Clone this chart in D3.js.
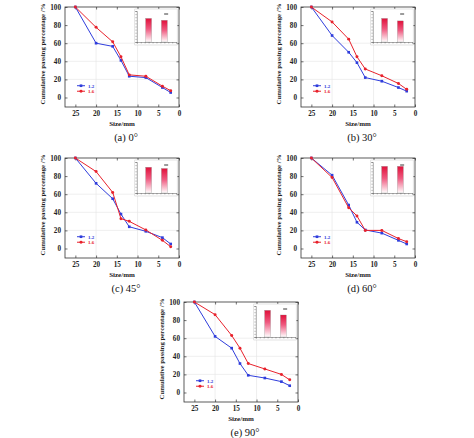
<!DOCTYPE html>
<html><head><meta charset="utf-8">
<script src="https://cdn.jsdelivr.net/npm/d3@7"></script>
<style>body{margin:0;background:#fff}svg{display:block}</style>
</head><body><svg id="c" width="474" height="438"></svg>
<script>
const sizes = [25, 20, 16, 14, 12, 8, 4, 2];
const xTicks = [25, 20, 15, 10, 5, 0];
const yTicks = [0, 20, 40, 60, 80, 100];
const seriesNames = ["1.2", "1.6"];
const captions = ["(a) 0°", "(b) 30°", "(c) 45°", "(d) 60°", "(e) 90°"];
const blue0 = [100, 60, 56.5, 41, 23.5, 22, 11, 5.5];
const red0  = [100, 77.5, 61.5, 45, 25, 23.5, 12.5, 7.5];
const blue30 = [100, 68.5, 50, 38.5, 22, 18, 11, 7];
const red30  = [100, 83.5, 64.5, 45, 31.5, 24, 15.5, 9];
const blue45 = [100, 72, 55, 38, 24, 19, 12, 5];
const red45  = [100, 85, 62, 33, 30, 20.5, 9, 2];
const blue60 = [100, 81, 48, 29, 20.5, 17, 9, 5];
const red60  = [100, 78.5, 45, 36, 20, 20, 11, 7.5];
const blue90 = [100, 62, 49, 32, 19, 16, 12, 7.5];
const red90  = [100, 86, 63, 49, 32, 26, 20, 14];
const insetBars = [[76, 70], [76, 68], [83, 79], [86, 86], [86, 71]];

const panels = [
  {x: 65, y: 7, blue: blue0, red: red0},
  {x: 301, y: 7, blue: blue30, red: red30},
  {x: 65, y: 158, blue: blue45, red: red45},
  {x: 301, y: 158, blue: blue60, red: red60},
  {x: 184, y: 302, blue: blue90, red: red90}
];
const W = 114, H = 100;
const BLUE = "#2f3ddc", RED = "#e8222c";
const font = "'Liberation Serif', 'Times New Roman', serif";
const svg = d3.select("#c");

const defs = svg.append("defs");
const grad = defs.append("linearGradient").attr("id", "bargrad").attr("x1", 0).attr("y1", 0).attr("x2", 0).attr("y2", 1);
grad.append("stop").attr("offset", "0%").attr("stop-color", "#e0103a");
grad.append("stop").attr("offset", "45%").attr("stop-color", "#ef5a80");
grad.append("stop").attr("offset", "100%").attr("stop-color", "#ffffff");

panels.forEach((p, i) => {
  const g = svg.append("g").attr("transform", `translate(${p.x},${p.y})`);
  const x = d3.scaleLinear().domain([27.5, 0]).range([0, W]);
  const y = d3.scaleLinear().domain([-10.5, 100]).range([H, 0]);

  // faint grid
  g.append("g").selectAll("line").data([20, 10]).join("line")
    .attr("x1", d => x(d)).attr("x2", d => x(d)).attr("y1", 0).attr("y2", H)
    .attr("stroke", "#e4e4e4").attr("stroke-width", 0.6);
  g.append("g").selectAll("line").data([20, 40, 60]).join("line")
    .attr("x1", 0).attr("x2", W).attr("y1", d => y(d)).attr("y2", d => y(d))
    .attr("stroke", "#e4e4e4").attr("stroke-width", 0.6);

  // axes
  const ax = g.append("g").attr("transform", `translate(0,${H})`)
    .call(d3.axisBottom(x).tickValues(xTicks).tickSize(-2.5).tickPadding(4).tickFormat(d3.format("d")));
  const ay = g.append("g")
    .call(d3.axisLeft(y).tickValues(yTicks).tickSize(-2.5).tickPadding(4).tickFormat(d3.format("d")));
  const axT = g.append("g").call(d3.axisTop(x).tickValues(xTicks).tickSize(-2.5).tickFormat(""));
  const ayR = g.append("g").attr("transform", `translate(${W},0)`)
    .call(d3.axisRight(y).tickValues(yTicks).tickSize(-2.5).tickFormat(""));
  [ax, ay, axT, ayR].forEach(a => {
    a.select(".domain").remove();
    a.selectAll("line").attr("stroke", "#333").attr("stroke-width", 0.7);
    a.selectAll("text").attr("font-family", font).attr("font-size", 7.2).attr("font-weight", "bold").attr("fill", "#222");
  });
  g.append("rect").attr("width", W).attr("height", H).attr("fill", "none").attr("stroke", "#333").attr("stroke-width", 0.8);

  // titles
  g.append("text").attr("x", W / 2).attr("y", H + 19).attr("text-anchor", "middle")
    .attr("font-family", font).attr("font-size", 7).attr("font-weight", "bold").attr("fill", "#222").text("Size/mm");
  g.append("text").attr("transform", `translate(-20,${H / 2 - 3}) rotate(-90)`).attr("text-anchor", "middle")
    .attr("font-family", font).attr("font-size", 6.8).attr("font-weight", "bold").attr("fill", "#222")
    .text("Cumulative passing percentage /%");
  g.append("text").attr("x", W / 2 + 4).attr("y", H + 34).attr("text-anchor", "middle")
    .attr("font-family", font).attr("font-size", 10.5).attr("fill", "#111").text(captions[i]);

  // inset
  const ix = W * 0.63, iy = 4, iw = W * 0.345, ih = 31;
  const ig = g.append("g").attr("transform", `translate(${ix},${iy})`);
  ig.append("rect").attr("x", -2).attr("y", -2).attr("width", iw + 3).attr("height", ih + 5)
    .attr("fill", "#fff").attr("stroke", "#bbb").attr("stroke-width", 0.4);
  const bx = d3.scaleBand().domain([0, 1]).range([0, iw]).paddingInner(0.625).paddingOuter(0.56);
  const by = d3.scaleLinear().domain([0, 100]).range([ih, 0]);
  ig.selectAll("rect.bar").data(insetBars[i]).join("rect").attr("class", "bar")
    .attr("x", (d, k) => bx(k)).attr("width", bx.bandwidth())
    .attr("y", d => by(d)).attr("height", d => ih - by(d))
    .attr("fill", "url(#bargrad)").attr("stroke", "#888").attr("stroke-width", 0.3);
  const iax = ig.append("g").attr("transform", `translate(0,${ih})`)
    .call(d3.axisBottom(d3.scaleLinear().domain([0, 10]).range([0, iw])).ticks(10).tickSize(1.5).tickFormat(""));
  const iay = ig.append("g")
    .call(d3.axisLeft(by).ticks(14).tickSize(1.5).tickFormat(""));
  [iax, iay].forEach(a => {
    a.select(".domain").attr("stroke", "#555").attr("stroke-width", 0.5);
    a.selectAll("line").attr("stroke", "#555").attr("stroke-width", 0.4);
  });
  ig.append("line").attr("x1", iw - 12).attr("x2", iw - 8).attr("y1", 3).attr("y2", 3)
    .attr("stroke", "#222").attr("stroke-width", 0.9);

  // lines
  const line = d3.line().x((d, k) => x(sizes[k])).y(d => y(d));
  [[p.blue, BLUE, "square"], [p.red, RED, "circle"]].forEach(([vals, col, shape]) => {
    g.append("path").datum(vals).attr("d", line).attr("fill", "none").attr("stroke", col).attr("stroke-width", 1);
    g.append("g").selectAll("path").data(vals).join("path")
      .attr("transform", (d, k) => `translate(${x(sizes[k])},${y(d)})`)
      .attr("d", d3.symbol().type(shape === "square" ? d3.symbolSquare : d3.symbolCircle).size(7))
      .attr("fill", col);
  });

  // legend
  const lg = g.append("g").attr("transform", `translate(12,${y(13)})`);
  [[BLUE, "square", seriesNames[0]], [RED, "circle", seriesNames[1]]].forEach(([col, shape, name], k) => {
    const ly = k * 5.5;
    lg.append("line").attr("x1", 0).attr("x2", 8).attr("y1", ly).attr("y2", ly).attr("stroke", col).attr("stroke-width", 1);
    lg.append("path").attr("transform", `translate(4,${ly})`)
      .attr("d", d3.symbol().type(shape === "square" ? d3.symbolSquare : d3.symbolCircle).size(7)).attr("fill", col);
    lg.append("text").attr("x", 11).attr("y", ly + 1.8).attr("font-family", font).attr("font-size", 5)
      .attr("font-weight", "bold").attr("fill", col).text(name);
  });
});
</script></body></html>
